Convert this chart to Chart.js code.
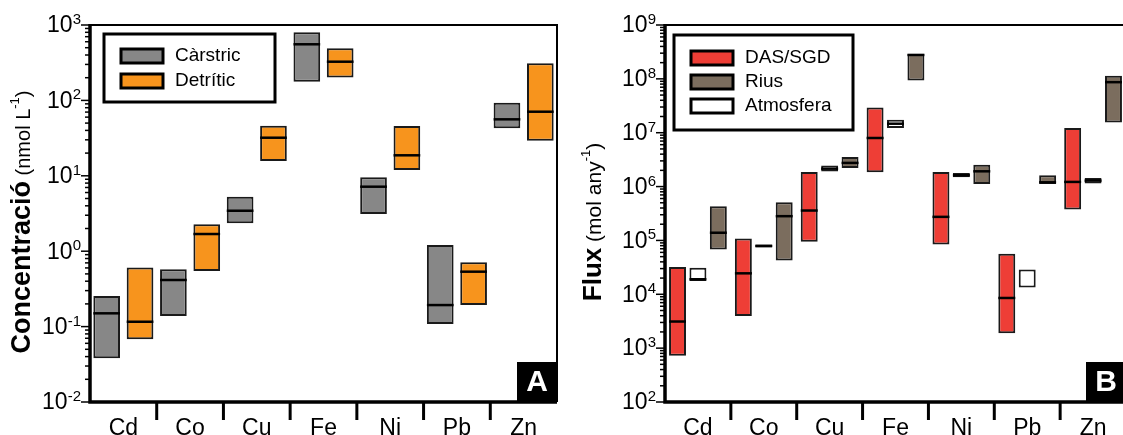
<!DOCTYPE html>
<html>
<head>
<meta charset="utf-8">
<script src="https://cdn.jsdelivr.net/npm/chart.js@4.4.1/dist/chart.umd.min.js"></script>
<style>
  html, body { margin: 0; padding: 0; background: #fff; width: 1123px; height: 435px; overflow: hidden; }
  #wrap { position: relative; width: 1123px; height: 435px; overflow: hidden; }
  #chartA { position: absolute; left: 0; top: 0; }
  #chartB { position: absolute; left: 575px; top: 0; }
</style>
</head>
<body>
<div id="wrap">
  <canvas id="chartA" width="575" height="435"></canvas>
  <canvas id="chartB" width="560" height="435"></canvas>
</div>
<script>
// Elements (x categories)
const elements = ['Cd', 'Co', 'Cu', 'Fe', 'Ni', 'Pb', 'Zn'];

// Panel A - concentració (nmol L-1): min, max, median
const carstricLow = [0.038, 0.138, 2.34, 177, 3.11, 0.108, 42.7];
const carstricHigh = [0.255, 0.575, 5.28, 800, 9.55, 1.21, 93.3];
const carstricMedian = [0.15, 0.415, 3.44, 555, 7.17, 0.193, 56.1];
const detriticLow = [0.068, 0.546, 15.7, 202, 11.9, 0.193, 29.2];
const detriticHigh = [0.61, 2.27, 46.2, 491, 45.8, 0.713, 310];
const detriticMedian = [0.116, 1.69, 32, 326, 18.7, 0.535, 70.8];

// Panel B - flux (mol any-1): min, max, median
const sgdLow = [720, 3960, 94600, 1.84e6, 84300, 1900, 375000];
const sgdHigh = [32000, 109000, 1.87e6, 2.94e7, 1.87e6, 56700, 1.22e7];
const sgdMedian = [3120, 24500, 359000, 7.98e6, 274000, 8540, 1.22e6];
const atmLow = [17600, 74000, 1.9e6, 1.22e7, 1.49e6, 13300, 1.14e6];
const atmHigh = [31200, 84000, 2.45e6, 1.74e7, 1.79e6, 29000, 1.45e6];
const atmMedian = [19000, 79000, 2.15e6, 1.47e7, 1.62e6, null, 1.29e6];
const riusLow = [68100, 42600, 2.22e6, 9.3e7, 1.12e6, 1.12e6, 1.55e7];
const riusHigh = [432000, 513000, 3.55e6, 2.9e8, 2.55e6, 1.62e6, 1.14e8];
const riusMedian = [139000, 282000, 2.75e6, 2.78e8, 1.92e6, 1.2e6, 8.68e7];

// y tick labels (exponents of 10)
const concExponents = [-2, -1, 0, 1, 2, 3];
const fluxExponents = [2, 3, 4, 5, 6, 7, 8, 9];

const FONT = '"Liberation Sans", Arial, Helvetica, sans-serif';
const INK = '#000';

function floating(lo, hi) {
  return lo.map((v, i) => [v, hi[i]]);
}

// rotated y title with mixed fonts and superscript
function drawTitle(ctx, cx, cy, parts) {
  ctx.save();
  ctx.translate(cx, cy);
  ctx.rotate(-Math.PI / 2);
  ctx.fillStyle = INK;
  ctx.textBaseline = 'alphabetic';
  ctx.textAlign = 'left';
  let total = 0;
  parts.forEach(p => { ctx.font = p.font; p.w = ctx.measureText(p.text).width; total += p.w; });
  let x = -total / 2;
  parts.forEach(p => {
    ctx.font = p.font;
    ctx.fillText(p.text, x, p.sup ? -1 : 10);
    x += p.w;
  });
  ctx.restore();
}

function makeDecor(cfg) {
  return {
    id: 'decor',
    afterDatasetsDraw(chart) {
      // median lines across each bar
      const ctx = chart.ctx;
      const yScale = chart.scales.y;
      ctx.save();
      ctx.strokeStyle = INK;
      ctx.lineWidth = 2.5;
      chart.data.datasets.forEach((ds, di) => {
        const meta = chart.getDatasetMeta(di);
        meta.data.forEach((bar, i) => {
          const m = ds.medians[i];
          if (m == null) return;
          const py = yScale.getPixelForValue(m);
          ctx.beginPath();
          ctx.moveTo(bar.x - bar.width / 2, py);
          ctx.lineTo(bar.x + bar.width / 2, py);
          ctx.stroke();
        });
      });
      ctx.restore();
    },
    afterDraw(chart) {
      const ctx = chart.ctx;
      const { left, right, top, bottom } = chart.chartArea;
      const xScale = chart.scales.x;
      const yScale = chart.scales.y;
      ctx.save();
      ctx.strokeStyle = INK;

      // frame: thin top/right, thick left/bottom
      ctx.lineWidth = 2;
      ctx.beginPath();
      ctx.moveTo(left, top);
      ctx.lineTo(right, top);
      ctx.lineTo(right, bottom);
      ctx.stroke();
      ctx.lineWidth = 3.5;
      ctx.beginPath();
      ctx.moveTo(left, top - 1);
      ctx.lineTo(left, bottom);
      ctx.lineTo(right, bottom);
      ctx.stroke();

      // separators between elements
      ctx.lineWidth = 3;
      for (let i = 1; i < elements.length; i++) {
        const px = (xScale.getPixelForValue(i - 1) + xScale.getPixelForValue(i)) / 2;
        ctx.beginPath();
        ctx.moveTo(px, bottom);
        ctx.lineTo(px, bottom + 18);
        ctx.stroke();
      }

      // log ticks and labels
      const exps = cfg.exponents;
      ctx.lineWidth = 1.5;
      exps.forEach((e, idx) => {
        const py = yScale.getPixelForValue(Math.pow(10, e));
        ctx.beginPath();
        ctx.moveTo(left - 9, py);
        ctx.lineTo(left, py);
        ctx.stroke();
        if (idx < exps.length - 1) {
          for (let k = 2; k <= 9; k++) {
            const pm = yScale.getPixelForValue(k * Math.pow(10, e));
            ctx.beginPath();
            ctx.moveTo(left - 5, pm);
            ctx.lineTo(left, pm);
            ctx.stroke();
          }
        }
        ctx.fillStyle = INK;
        ctx.font = `15px ${FONT}`;
        const sup = String(e);
        const sw = ctx.measureText(sup).width;
        const xr = left - 9 - sw;
        ctx.font = `23px ${FONT}`;
        ctx.textAlign = 'right';
        ctx.textBaseline = 'middle';
        ctx.fillText('10', xr, py + 1);
        ctx.font = `15px ${FONT}`;
        ctx.textAlign = 'left';
        ctx.textBaseline = 'alphabetic';
        ctx.fillText(sup, xr, py - 1);
      });

      // legend
      const lb = cfg.legendBox;
      ctx.lineWidth = 3;
      ctx.strokeRect(lb.x, lb.y, lb.w, lb.h);
      cfg.legend.forEach((item, i) => {
        const sy = lb.y + lb.first + i * lb.step;
        ctx.fillStyle = item.color;
        ctx.fillRect(lb.x + 17, sy, 42, 14);
        ctx.lineWidth = 3;
        ctx.strokeRect(lb.x + 17, sy, 42, 14);
        ctx.fillStyle = INK;
        ctx.font = `19px ${FONT}`;
        ctx.textAlign = 'left';
        ctx.textBaseline = 'middle';
        ctx.fillText(item.label, lb.x + 71, sy + 7);
      });

      // panel letter
      ctx.fillStyle = INK;
      ctx.fillRect(right - 40, bottom - 40, 40, 40);
      ctx.fillStyle = '#fff';
      ctx.font = `bold 30px ${FONT}`;
      ctx.textAlign = 'center';
      ctx.textBaseline = 'middle';
      ctx.fillText(cfg.letter, right - 20, bottom - 19);

      // y title
      drawTitle(ctx, cfg.titleX, cfg.titleY, cfg.title);
      ctx.restore();
    }
  };
}

function barDataset(label, lo, hi, med, color, barPct, catPct) {
  return {
    label: label,
    data: floating(lo, hi),
    medians: med,
    backgroundColor: color,
    borderColor: '#1a1a1a',
    borderWidth: 2,
    borderSkipped: false,
    barPercentage: barPct,
    categoryPercentage: catPct
  };
}

function makeOptions(yMin, yMax, pad) {
  return {
    responsive: false,
    animation: false,
    events: [],
    layout: { padding: pad },
    plugins: { legend: { display: false }, tooltip: { enabled: false } },
    scales: {
      x: {
        type: 'category',
        offset: true,
        grid: { display: false },
        border: { display: false },
        ticks: {
          color: INK,
          font: { family: FONT, size: 23 },
          padding: 5,
          autoSkip: false,
          maxRotation: 0
        },
        afterFit: s => { s.height = 33; }
      },
      y: {
        type: 'logarithmic',
        display: false,
        min: yMin,
        max: yMax
      }
    }
  };
}

// Panel A
new Chart(document.getElementById('chartA'), {
  type: 'bar',
  data: {
    labels: elements,
    datasets: [
      barDataset('Càrstric', carstricLow, carstricHigh, carstricMedian, '#878787', 0.8, 1.0),
      barDataset('Detrític', detriticLow, detriticHigh, detriticMedian, '#F7941D', 0.8, 1.0)
    ]
  },
  options: makeOptions(1e-2, 1e3, { left: 90, top: 25, right: 18, bottom: 0 }),
  plugins: [makeDecor({
    letter: 'A',
    exponents: concExponents,
    legendBox: { x: 104, y: 34, w: 171, h: 68, first: 15, step: 25 },
    legend: [
      { label: 'Càrstric', color: '#878787' },
      { label: 'Detrític', color: '#F7941D' }
    ],
    titleX: 20,
    titleY: 222,
    title: [
      { text: 'Concentració', font: `bold 27px ${FONT}` },
      { text: ' (nmol L', font: `20px ${FONT}` },
      { text: '-1', font: `13px ${FONT}`, sup: true },
      { text: ')', font: `20px ${FONT}` }
    ]
  })]
});

// Panel B
new Chart(document.getElementById('chartB'), {
  type: 'bar',
  data: {
    labels: elements,
    datasets: [
      barDataset('DAS/SGD', sgdLow, sgdHigh, sgdMedian, '#EE3E36', 0.83, 0.93),
      barDataset('Atmosfera', atmLow, atmHigh, atmMedian, '#FFFFFF', 0.83, 0.93),
      barDataset('Rius', riusLow, riusHigh, riusMedian, '#7B6D5E', 0.83, 0.93)
    ]
  },
  options: makeOptions(1e2, 1e9, { left: 90, top: 25, right: 9, bottom: 0 }),
  plugins: [makeDecor({
    letter: 'B',
    exponents: fluxExponents,
    legendBox: { x: 99, y: 35, w: 179, h: 95, first: 16, step: 24 },
    legend: [
      { label: 'DAS/SGD', color: '#EE3E36' },
      { label: 'Rius', color: '#7B6D5E' },
      { label: 'Atmosfera', color: '#FFFFFF' }
    ],
    titleX: 16,
    titleY: 222,
    title: [
      { text: 'Flux', font: `bold 26px ${FONT}` },
      { text: ' (mol any', font: `21px ${FONT}` },
      { text: '-1', font: `13px ${FONT}`, sup: true },
      { text: ')', font: `21px ${FONT}` }
    ]
  })]
});
</script>
</body>
</html>
